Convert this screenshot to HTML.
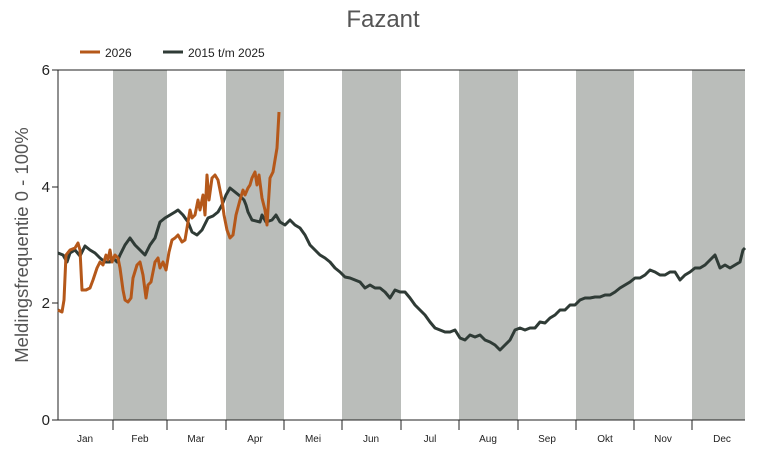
<!DOCTYPE html>
<html><head><meta charset="utf-8"><style>
body{margin:0;background:#fff}
svg text{font-family:"Liberation Sans",sans-serif}
</style></head><body>
<svg width="765" height="450" viewBox="0 0 765 450" xmlns="http://www.w3.org/2000/svg">
<rect width="765" height="450" fill="#fff"/>
<text x="383" y="27" font-size="24" fill="#555" text-anchor="middle">Fazant</text>
<line x1="80" y1="52" x2="100" y2="52" stroke="#b5581a" stroke-width="3"/>
<text x="105" y="57" font-size="12" fill="#222">2026</text>
<line x1="163" y1="52" x2="183" y2="52" stroke="#2f3b36" stroke-width="3"/>
<text x="188" y="57" font-size="12" fill="#222">2015 t/m 2025</text>
<g fill="#babdba">
<rect x="113" y="70" width="54" height="350"/>
<rect x="226" y="70" width="58" height="350"/>
<rect x="342" y="70" width="59" height="350"/>
<rect x="459" y="70" width="59" height="350"/>
<rect x="576" y="70" width="58" height="350"/>
<rect x="692" y="70" width="53" height="350"/>
</g>
<line x1="58" y1="70" x2="745" y2="70" stroke="#222" stroke-width="1"/>
<line x1="58" y1="70" x2="58" y2="420" stroke="#222" stroke-width="1"/>
<line x1="52" y1="420" x2="745" y2="420" stroke="#222" stroke-width="1"/>
<g stroke="#222">
<line x1="52" y1="70" x2="58" y2="70"/><line x1="52" y1="187" x2="58" y2="187"/><line x1="52" y1="303" x2="58" y2="303"/>
<line x1="113" y1="420" x2="113" y2="430"/><line x1="167" y1="420" x2="167" y2="430"/><line x1="226" y1="420" x2="226" y2="430"/><line x1="284" y1="420" x2="284" y2="430"/><line x1="342" y1="420" x2="342" y2="430"/><line x1="401" y1="420" x2="401" y2="430"/><line x1="459" y1="420" x2="459" y2="430"/><line x1="518" y1="420" x2="518" y2="430"/><line x1="576" y1="420" x2="576" y2="430"/><line x1="634" y1="420" x2="634" y2="430"/><line x1="692" y1="420" x2="692" y2="430"/>
</g>
<g font-size="15" fill="#222" text-anchor="end">
<text x="50" y="425">0</text><text x="50" y="308">2</text><text x="50" y="192">4</text><text x="50" y="75">6</text>
</g>
<g font-size="10" fill="#222" text-anchor="middle">
<text x="85" y="442">Jan</text><text x="140" y="442">Feb</text><text x="196" y="442">Mar</text><text x="255" y="442">Apr</text><text x="313" y="442">Mei</text><text x="371" y="442">Jun</text><text x="430" y="442">Jul</text><text x="488" y="442">Aug</text><text x="547" y="442">Sep</text><text x="605" y="442">Okt</text><text x="663" y="442">Nov</text><text x="722" y="442">Dec</text>
</g>
<text transform="translate(28,245) rotate(-90)" font-size="18.5" fill="#555" text-anchor="middle">Meldingsfrequentie 0 - 100%</text>
<polyline fill="none" stroke="#2f3b36" stroke-width="3" stroke-linejoin="round" points="58,253 63,255 67,262 70,253 75,250 80,256 85,246 90,250 95,253 100,258 105,262 110,262 113,258 117,262 120,255 125,245 130,238 135,245 140,250 145,255 150,245 155,238 160,222 165,218 170,215 175,212 178,210 183,215 188,222 192,232 197,235 202,230 208,218 213,216 218,212 222,205 226,195 230,188 235,192 240,196 244,200 246,205 248,212 252,220 260,222 262,215 266,222 272,220 276,215 280,222 285,225 290,220 295,225 300,228 305,235 310,245 315,250 320,255 325,258 330,262 335,268 340,272 345,277 350,278 355,280 360,282 365,288 370,285 375,288 380,288 385,292 390,298 395,290 400,292 405,292 410,298 415,305 420,310 425,315 430,322 435,328 440,330 445,332 450,332 455,330 460,338 465,340 470,335 475,337 480,335 485,340 490,342 495,345 500,350 505,345 510,340 515,330 520,328 525,330 530,328 535,328 540,322 545,323 550,318 555,315 560,310 565,310 570,305 575,305 580,300 585,298 590,298 595,297 600,297 605,295 610,295 615,292 620,288 625,285 630,282 635,278 640,278 645,275 650,270 655,272 660,275 665,275 670,272 675,272 680,280 685,275 690,272 695,268 700,268 705,265 710,260 715,255 720,268 725,265 730,268 735,265 740,262 743,250 745,248"/>
<polyline fill="none" stroke="#b5581a" stroke-width="3" stroke-linejoin="round" points="58,310 62,312 64,300 66,255 70,250 75,248 78,243 80,250 82,290 86,290 90,288 93,280 97,268 100,262 103,265 106,255 108,260 110,250 112,262 115,255 118,258 120,268 123,290 125,300 128,302 131,298 133,278 137,265 140,262 143,275 146,298 148,285 151,282 155,262 158,258 160,268 163,262 166,270 169,252 172,240 175,238 178,235 182,242 185,240 188,222 190,210 192,218 195,215 198,200 200,210 203,195 205,215 207,175 209,200 212,178 215,175 218,180 220,190 222,200 224,215 227,230 230,238 233,235 236,215 240,200 243,190 245,195 248,188 250,185 252,178 255,172 257,185 259,175 262,198 265,210 267,225 270,178 273,172 275,160 277,148 279,112"/>
</svg>
</body></html>
